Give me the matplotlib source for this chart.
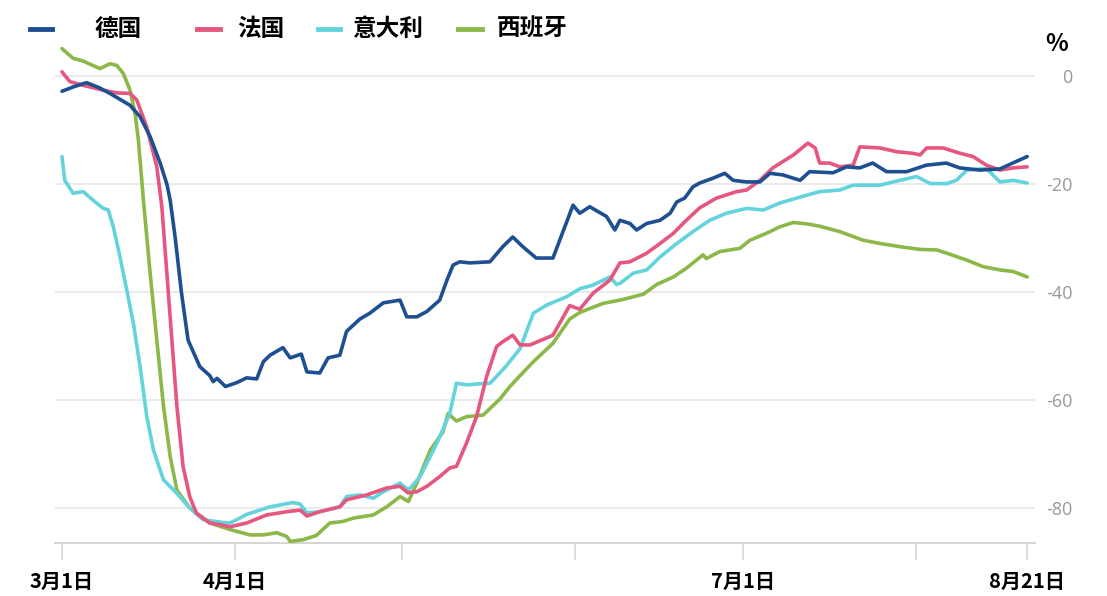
import matplotlib
matplotlib.use("Agg")
import matplotlib.pyplot as plt
from matplotlib.lines import Line2D
import numpy as np

plt.rcParams["font.family"] = ["Noto Sans CJK SC", "DejaVu Sans"]
plt.rcParams["axes.unicode_minus"] = False

# days since 3月1日, values in %
DE_DAYS = [0, 2, 4.4, 6.8, 8.6, 10.4, 12.2, 14.0, 15.8, 17.6,
           18.8, 19.4, 20.3, 21.4, 22.6, 24.7, 26.5, 27.1, 27.8, 29.3,
           31.3, 33.1, 34.9, 36.1, 37.3, 39.6, 40.9, 42.9, 43.9, 46.2,
           47.7, 49.8, 51.0, 53.4, 55.2, 57.6, 60.6, 61.8, 63.6, 65.4,
           67.7, 69.0, 70.1, 71.3, 73.1, 76.7, 79.0, 80.8, 82.6, 85.0,
           88.0, 91.6, 92.8, 94.6, 97.6, 99.1, 100.0, 101.8, 103.0, 104.8,
           107.2, 109.0, 110.2, 111.6, 113.1, 114.3, 116.7, 118.8, 120.3, 122.7,
           125.1, 126.9, 129.2, 132.3, 134.0, 138.2, 140.6, 143.0, 145.3, 147.8,
           151.4, 154.9, 158.5, 160.9, 164.5, 168.1, 170.4, 173.0]
DE_VALS = [-2.8, -2.0, -1.2, -2.2, -3.2, -4.3, -5.4, -7.5, -11.2, -16.1,
           -20.0, -23.0, -30.0, -40.0, -48.9, -53.8, -55.5, -56.6, -56.0, -57.5,
           -56.8, -55.9, -56.1, -52.9, -51.7, -50.3, -52.2, -51.5, -54.8, -55.0,
           -52.2, -51.7, -47.3, -45.0, -43.9, -42.0, -41.5, -44.6, -44.6, -43.6,
           -41.5, -37.8, -35.0, -34.4, -34.6, -34.4, -31.6, -29.8, -31.6, -33.7,
           -33.7, -23.9, -25.4, -24.2, -26.0, -28.5, -26.7, -27.3, -28.5, -27.3,
           -26.7, -25.4, -23.3, -22.6, -20.5, -19.8, -18.9, -18.0, -19.3, -19.6,
           -19.6, -18.0, -18.3, -19.3, -17.7, -17.9, -16.8, -17.0, -16.1, -17.7,
           -17.7, -16.5, -16.1, -17.0, -17.4, -17.2, -16.1, -14.9]

FR_DAYS = [0, 1.4, 3.8, 7.4, 9.8, 12.2, 13.4, 15.2, 17.0, 17.9,
           18.8, 19.7, 20.6, 21.7, 22.9, 24.1, 26.5, 28.3, 30.1, 33.1,
           36.7, 40.3, 42.7, 43.9, 46.2, 49.8, 51.0, 54.6, 58.2, 60.6,
           62.0, 63.6, 65.4, 67.7, 69.5, 70.7, 72.5, 74.3, 76.1, 77.9,
           79.0, 80.8, 82.1, 83.9, 88.0, 91.0, 92.8, 95.2, 98.2, 100.0,
           101.8, 104.8, 107.2, 109.6, 111.9, 114.3, 117.3, 120.9, 122.7, 125.1,
           127.4, 131.1, 133.7, 135.0, 135.8, 137.6, 139.4, 141.8, 143.0, 146.6,
           149.6, 152.5, 153.8, 155.0, 157.9, 161.0, 163.3, 165.7, 168.1, 170.5,
           173.0]
FR_VALS = [0.8, -1.0, -1.7, -2.6, -3.1, -3.2, -4.4, -9.4, -16.8, -24.2,
           -36.5, -48.9, -61.2, -72.3, -77.9, -81.0, -82.8, -83.1, -83.5, -82.8,
           -81.3, -80.7, -80.4, -81.5, -80.7, -79.8, -78.5, -77.6, -76.3, -76.0,
           -77.2, -77.0, -76.0, -74.2, -72.6, -72.3, -68.0, -63.1, -55.7, -50.1,
           -49.2, -48.0, -49.8, -49.8, -48.0, -42.5, -43.2, -40.2, -37.8, -34.6,
           -34.4, -32.8, -31.0, -29.1, -26.7, -24.4, -22.6, -21.4, -21.1, -19.3,
           -17.0, -14.6, -12.4, -13.3, -16.1, -16.1, -16.8, -16.5, -13.1, -13.3,
           -14.0, -14.3, -14.6, -13.3, -13.3, -14.3, -14.9, -16.5, -17.4, -17.0,
           -16.8]

IT_DAYS = [0, 0.5, 2.0, 3.8, 5.6, 7.4, 8.3, 9.2, 10.4, 11.6,
           12.8, 14.0, 15.2, 16.4, 18.2, 20.6, 22.9, 25.3, 28.9, 30.1,
           31.3, 33.1, 37.3, 41.4, 42.7, 43.9, 46.2, 49.8, 51.0, 53.4,
           55.8, 57.6, 60.6, 62.1, 64.2, 67.2, 69.5, 70.7, 72.5, 74.9,
           76.7, 77.3, 79.7, 82.1, 84.5, 86.9, 90.4, 92.8, 95.2, 98.2,
           99.4, 100.0, 102.4, 104.8, 107.2, 110.2, 113.1, 116.1, 119.1, 122.7,
           125.7, 128.7, 132.3, 135.8, 139.4, 141.8, 146.6, 150.2, 153.2, 155.6,
           158.6, 160.3, 162.2, 165.7, 168.1, 170.5, 173.0]
IT_VALS = [-14.9, -19.3, -21.7, -21.4, -23.0, -24.5, -24.8, -27.9, -33.5, -39.6,
           -45.8, -53.8, -63.1, -69.3, -74.8, -77.3, -80.0, -82.2, -82.7, -82.8,
           -82.2, -81.2, -79.8, -79.0, -79.3, -80.9, -80.7, -79.8, -77.9, -77.6,
           -78.2, -77.0, -75.4, -76.7, -74.2, -68.0, -62.5, -56.9, -57.2, -57.0,
           -56.9, -56.3, -53.6, -50.5, -43.9, -42.4, -40.9, -39.4, -38.7, -37.2,
           -38.6, -38.4, -36.5, -35.9, -33.5, -31.0, -28.8, -26.7, -25.4, -24.5,
           -24.8, -23.5, -22.4, -21.4, -21.1, -20.2, -20.2, -19.3, -18.6, -19.9,
           -19.9, -19.3, -17.4, -17.1, -19.6, -19.3, -19.8]

ES_DAYS = [0, 2.0, 3.8, 6.8, 8.6, 9.8, 11.0, 12.2, 13.1, 13.7,
           14.6, 15.8, 17.0, 18.2, 19.4, 20.6, 22.9, 26.5, 30.1, 33.7,
           36.1, 38.5, 40.3, 40.9, 43.2, 45.6, 48.0, 50.4, 52.2, 55.8,
           58.2, 60.6, 62.1, 63.6, 66.0, 68.3, 69.2, 70.7, 72.5, 75.5,
           78.5, 80.3, 82.1, 84.5, 88.0, 91.0, 92.8, 94.0, 97.0, 100.0,
           101.2, 104.2, 106.6, 109.6, 111.9, 114.9, 115.5, 117.9, 121.5, 123.3,
           126.3, 128.7, 131.1, 133.7, 135.8, 139.4, 143.6, 146.6, 150.2, 153.8,
           156.8, 158.6, 162.2, 165.1, 168.1, 170.5, 173.0]
ES_VALS = [5.1, 3.3, 2.8, 1.4, 2.3, 2.0, 0.5, -2.6, -6.9, -11.9,
           -23.0, -36.5, -48.9, -61.2, -70.5, -76.7, -80.0, -82.8, -84.0, -85.0,
           -85.0, -84.6, -85.3, -86.2, -85.9, -85.1, -82.8, -82.5, -81.9, -81.3,
           -79.8, -77.9, -78.8, -75.4, -69.3, -65.9, -62.5, -63.9, -63.1, -62.8,
           -59.8, -57.5, -55.5, -52.9, -49.5, -45.0, -43.8, -43.3, -42.1, -41.5,
           -41.2, -40.4, -38.6, -37.2, -35.6, -33.1, -33.8, -32.5, -31.9, -30.4,
           -29.1, -27.9, -27.1, -27.4, -27.8, -28.8, -30.4, -31.0, -31.6, -32.1,
           -32.2, -32.8, -34.1, -35.3, -35.9, -36.2, -37.2]

COUNTRIES = ["德国", "法国", "意大利", "西班牙"]
COLORS = ["#1d4f91", "#e5577f", "#63d3dd", "#8cb84a"]

TICK_DAYS = [0, 31, 61, 92, 122, 153, 173]
TICK_LABELS = ["3月1日", "4月1日", "", "", "7月1日", "", "8月21日"]
Y_TICKS = [0, -20, -40, -60, -80]

W, H = 1107, 596
fig = plt.figure(figsize=(W / 100, H / 100), dpi=100)
ax = fig.add_axes([55 / W, 1 - 543 / H, (1035 - 55) / W, (543 - 40) / H])

series = [(DE_DAYS, DE_VALS), (FR_DAYS, FR_VALS), (IT_DAYS, IT_VALS), (ES_DAYS, ES_VALS)]
# spain drawn first, germany on top
for i in [3, 2, 1, 0]:
    d, v = series[i]
    ax.plot(np.array(d), np.array(v), color=COLORS[i], linewidth=2.6,
            solid_joinstyle="round", solid_capstyle="round", zorder=3 + (3 - i))

ax.set_xlim(-1.25, 174.4)
ax.set_ylim(-86.5, 6.7)

for s in ["top", "left", "right"]:
    ax.spines[s].set_visible(False)
ax.spines["bottom"].set_color("#d6d6d6")
ax.spines["bottom"].set_linewidth(1.5)

ax.set_yticks(Y_TICKS)
ax.yaxis.tick_right()
ax.tick_params(axis="y", length=0, pad=27, labelsize=13, labelcolor="#999999")
for lab in ax.get_yticklabels():
    lab.set_horizontalalignment("right")
    lab.set_family(["Open Sans", "DejaVu Sans"])
ax.grid(axis="y", color="#e8e8e8", linewidth=1.2)
ax.set_axisbelow(True)

ax.set_xticks(TICK_DAYS)
ax.set_xticklabels(TICK_LABELS, fontsize=14.5, fontweight="bold")
ax.tick_params(axis="x", length=12, width=1.2, color="#d6d6d6", pad=8, labelcolor="black")

# legend drawn by hand to keep the uneven spacing
legend_line_x = [(30, 52), (197, 220), (318, 340), (458, 482)]
legend_text_x = [95, 237, 352, 497]
ly = 1 - 29 / H
for i, name in enumerate(COUNTRIES):
    x0, x1 = legend_line_x[i]
    fig.add_artist(Line2D([x0 / W, x1 / W], [ly, ly], color=COLORS[i], linewidth=3.5))
    fig.text(legend_text_x[i] / W, ly, name, fontsize=17, fontweight="bold",
             ha="left", va="center", color="black")

fig.text(1057 / W, 1 - 44 / H, "%", fontsize=17, fontweight="bold", ha="center", va="center")

fig.savefig("out.png", dpi=100)
